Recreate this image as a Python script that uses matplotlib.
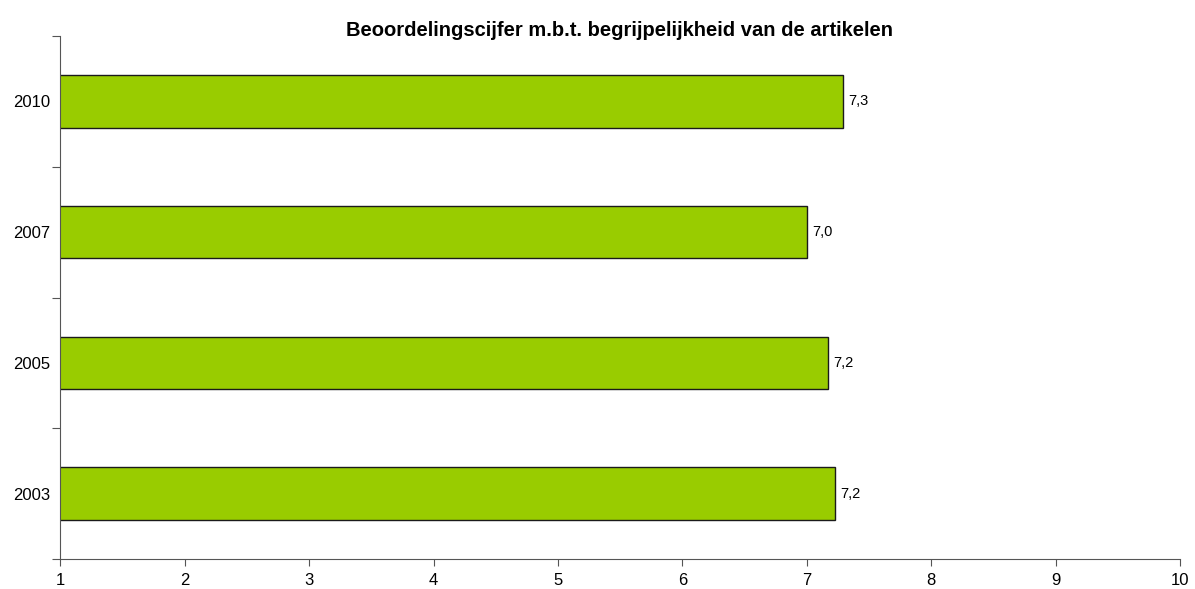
import numpy as np
import matplotlib
matplotlib.use("Agg")
import matplotlib.pyplot as plt

plt.rcParams['font.family'] = ['Liberation Sans', 'DejaVu Sans']

# data
jaren = ['2003', '2005', '2007', '2010']
cijfers = [7.23, 7.17, 7.0, 7.29]
labels = ['7,2', '7,2', '7,0', '7,3']

fig = plt.figure(figsize=(11.95, 5.89), dpi=100)
ax = fig.add_axes([0.0506, 0.0509, 0.9368, 0.888])

y = np.arange(len(jaren))
ax.barh(y, cijfers, height=0.4, left=0, color='#99CC00', edgecolor='#1a1a1a', linewidth=1.0)

for yi, v, lab in zip(y, cijfers, labels):
    ax.text(v + 0.04, yi, lab, va='center', ha='left', fontsize=10.5)

ax.set_xlim(1, 10)
ax.set_ylim(-0.5, 3.5)
ax.set_xticks(range(1, 11))
ax.set_xticklabels([str(i) for i in range(1, 11)], fontsize=12)

# category labels in middle, tick marks on boundaries
ax.set_yticks(np.arange(-0.5, 4, 1.0))
ax.set_yticklabels([])
ax.set_yticks(y, minor=True)
ax.set_yticklabels(jaren, minor=True, fontsize=12)
ax.tick_params(axis='y', which='minor', length=0, pad=7)
ax.tick_params(axis='y', which='major', length=6, color='#555555')
ax.tick_params(axis='x', length=5, color='#555555', pad=5)

for s in ['top', 'right']:
    ax.spines[s].set_visible(False)
for s in ['left', 'bottom']:
    ax.spines[s].set_color('#555555')

fig.text(0.518, 0.949, 'Beoordelingscijfer m.b.t. begrijpelijkheid van de artikelen',
         ha='center', va='center', fontsize=14.5, fontweight='bold')

fig.savefig('out.png', dpi=100)
